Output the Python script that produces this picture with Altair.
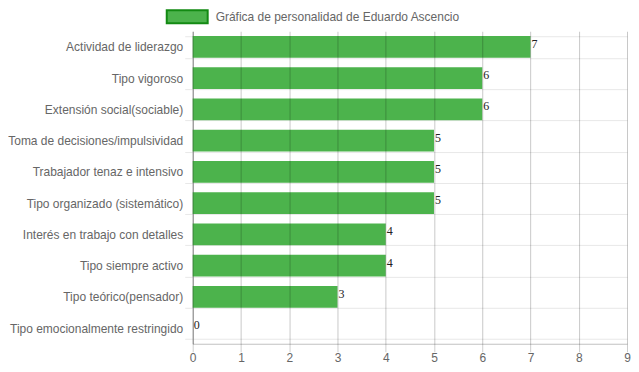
import altair as alt
import pandas as pd

categories = [
    "Actividad de liderazgo",
    "Tipo vigoroso",
    "Extensión social(sociable)",
    "Toma de decisiones/impulsividad",
    "Trabajador tenaz e intensivo",
    "Tipo organizado (sistemático)",
    "Interés en trabajo con detalles",
    "Tipo siempre activo",
    "Tipo teórico(pensador)",
    "Tipo emocionalmente restringido",
]
values = [7, 6, 6, 5, 5, 5, 4, 4, 3, 0]
series_name = "Gráfica de personalidad de Eduardo Ascencio"
x_ticks = [0, 1, 2, 3, 4, 5, 6, 7, 8, 9]

df = pd.DataFrame({"cat": categories, "val": values, "series": [series_name] * len(categories)})

FONT = "Liberation Sans"

y_enc = alt.Y(
    "cat:N",
    sort=categories,
    title=None,
    scale=alt.Scale(paddingInner=0.3, paddingOuter=0.15),
    axis=alt.Axis(
        grid=True,
        tickBand="extent",
        labelFont=FONT,
        labelFontSize=12,
        labelColor="#666666",
        labelPadding=2,
        tickSize=8,
        tickColor="#e8e8e8",
        gridColor="#e8e8e8",
        domainColor="#a0a0a0",
        labelLimit=300,
    ),
)

x_enc = alt.X(
    "val:Q",
    title=None,
    scale=alt.Scale(domain=[0, 9], nice=False, zero=True),
    axis=alt.Axis(
        values=x_ticks,
        format="d",
        labelFlush=False,
        labelFont=FONT,
        labelFontSize=12,
        labelColor="#666666",
        labelPadding=1,
        tickSize=8,
        tickColor="#000000",
        tickOpacity=0.2,
        gridColor="#000000",
        gridOpacity=0.22,
        domainColor="#000000",
        domainOpacity=0.25,
        zindex=1,
    ),
)

base = alt.Chart(df)

bars = base.mark_bar().encode(
    y=y_enc,
    x=x_enc,
    color=alt.Color(
        "series:N",
        scale=alt.Scale(range=["#4cb34c"]),
        legend=alt.Legend(
            title=None,
            orient="none",
            legendX=-27,
            legendY=-36,
            symbolType="M-1,-0.317H1V0.317H-1Z",
            symbolSize=1681,
            symbolStrokeColor="#138a13",
            symbolStrokeWidth=2,
            symbolOpacity=1,
            labelFont=FONT,
            labelFontSize=12,
            labelColor="#666666",
            labelOffset=7,
            labelLimit=400,
            padding=0,
        ),
    ),
)

labels = base.mark_text(
    align="left",
    baseline="middle",
    dx=1,
    dy=-3,
    font="Liberation Serif",
    fontSize=12,
    color="#222222",
).encode(
    y=alt.Y("cat:N", sort=categories),
    x=alt.X("val:Q"),
    text=alt.Text("val:Q"),
)

chart = (bars + labels).properties(
    width=435,
    height=313,
    autosize=alt.AutoSizeParams(type="none"),
    padding={"left": 185, "top": 23, "right": 4, "bottom": 20},
).configure_view(stroke=None)

chart.save("out.html", embed_options={"renderer": "svg", "actions": False})
